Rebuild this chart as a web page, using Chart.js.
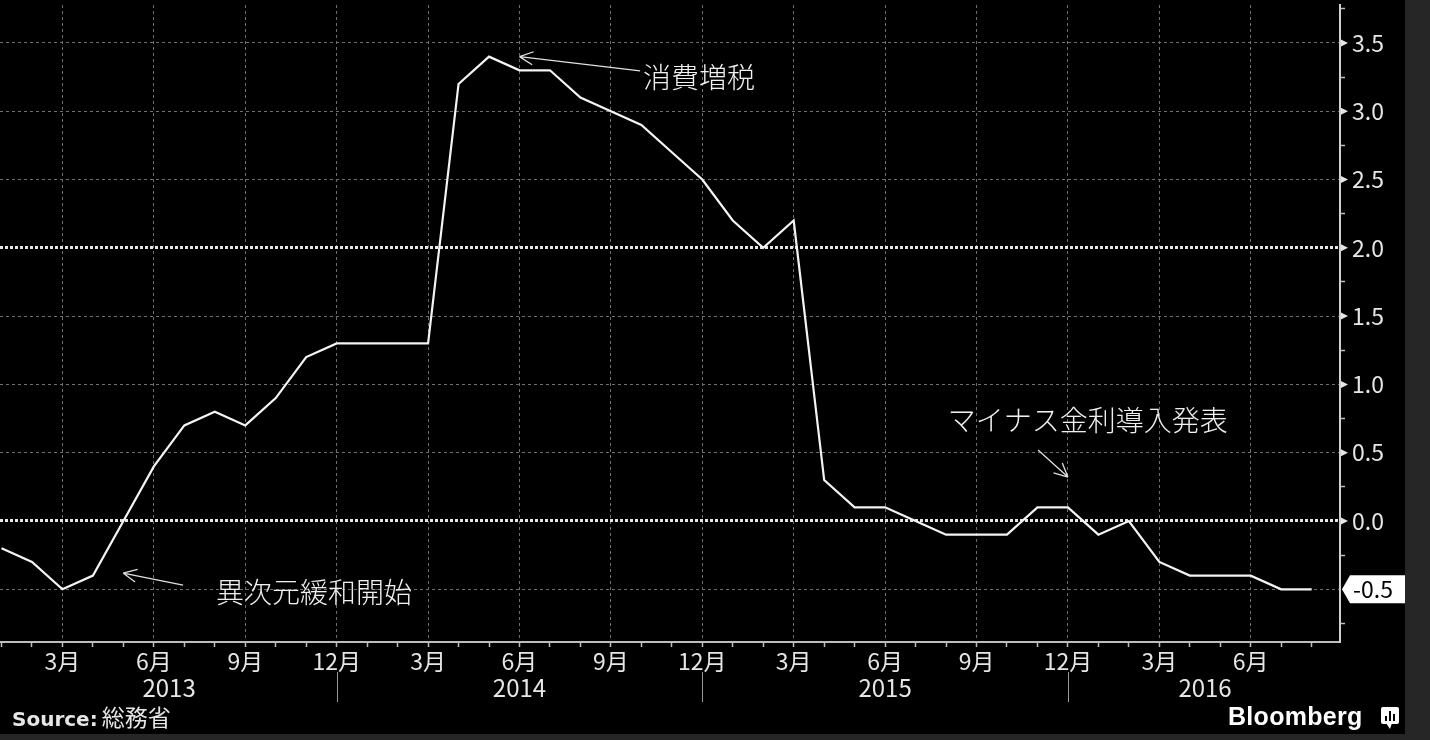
<!DOCTYPE html>
<html lang="ja">
<head>
<meta charset="utf-8">
<title>コアCPI 前年比</title>
<script src="https://cdn.jsdelivr.net/npm/chart.js@4.4.1/dist/chart.umd.min.js"></script>
<style>
  html, body { margin: 0; padding: 0; background: #262626; }
  #wrap { position: relative; width: 1405px; height: 734px; background: #000; overflow: hidden; }
  #cpiChart { position: absolute; left: 0; top: 0; }
  .source { position: absolute; left: 12px; top: 699px; color: #e6e6e6; line-height: 24px; white-space: nowrap; }
  .source b { font: bold 20px "DejaVu Sans", sans-serif; }
  .source span { font: 23px "Noto Sans CJK JP", sans-serif; }
  .brand { position: absolute; left: 1228px; top: 702px; color: #fff; font: bold 25px "Liberation Sans", Arial, sans-serif; line-height: 28px; letter-spacing: 0.3px; }
</style>
</head>
<body>
<div id="wrap">
  <canvas id="cpiChart" width="1405" height="734"></canvas>
  <div class="source"><b>Source:</b> <span>総務省</span></div>
  <div class="brand">Bloomberg</div>
</div>
<script>
// 月次データ (前年同月比 %)
const startYear = 2013;
const cpi2013 = [-0.2, -0.3, -0.5, -0.4, 0.0, 0.4, 0.7, 0.8, 0.7, 0.9, 1.2, 1.3];
const cpi2014 = [1.3, 1.3, 1.3, 3.2, 3.4, 3.3, 3.3, 3.1, 3.0, 2.9, 2.7, 2.5];
const cpi2015 = [2.2, 2.0, 2.2, 0.3, 0.1, 0.1, 0.0, -0.1, -0.1, -0.1, 0.1, 0.1];
const cpi2016 = [-0.1, 0.0, -0.3, -0.4, -0.4, -0.4, -0.5, -0.5];

const monthNames = ['1月', '2月', '3月', '4月', '5月', '6月', '7月', '8月', '9月', '10月', '11月', '12月'];
const labelledMonths = [3, 6, 9, 12];
const yearLabels = ['2013', '2014', '2015', '2016'];
const refLines = [0, 2];
const noteTexts = ['消費増税', '異次元緩和開始', 'マイナス金利導入発表'];

// レイアウト (データ単位)
const X_MIN = -0.05, X_MAX = 43.93;
const Y_MIN = -0.886, Y_MAX = 3.778;
const yearCentres = [5.5, 17, 29, 39.5];
const notePlaces = [
    { tip: [17.0, 3.40], tail: [20.96, 3.295], text: [21.05, 3.25] },
    { tip: [3.99, -0.381], tail: [5.96, -0.469], text: [7.04, -0.52] },
    { tip: [35.0, 0.322], tail: [34.02, 0.52], text: [31.06, 0.74] }
];

const cpiValues = [].concat(cpi2013, cpi2014, cpi2015, cpi2016);
const points = cpiValues.map((v, i) => ({ x: i, y: v }));
const lastValue = cpiValues[cpiValues.length - 1];

const near = (a, b) => Math.abs(a - b) < 1e-6;
const isMajor = v => near(v * 2, Math.round(v * 2));
const isRef = v => refLines.some(r => near(r, v));

const decorations = {
    id: 'decorations',
    afterDraw(chart) {
        const { ctx, chartArea, scales: { x, y } } = chart;
        ctx.save();

        // 目盛りの三角
        ctx.fillStyle = '#e6e6e6';
        y.ticks.forEach(t => {
            if (!isMajor(t.value) || near(t.value, lastValue)) return;
            const py = y.getPixelForValue(t.value);
            ctx.beginPath();
            ctx.moveTo(chartArea.right + 1, py - 3.5);
            ctx.lineTo(chartArea.right + 8, py);
            ctx.lineTo(chartArea.right + 1, py + 3.5);
            ctx.closePath();
            ctx.fill();
        });

        // 最新値ラベル
        const by = y.getPixelForValue(lastValue);
        const bx = chartArea.right + 2;
        ctx.fillStyle = '#fff';
        ctx.beginPath();
        ctx.moveTo(bx, by);
        ctx.lineTo(bx + 8, by - 14);
        ctx.lineTo(chart.width, by - 14);
        ctx.lineTo(chart.width, by + 14);
        ctx.lineTo(bx + 8, by + 14);
        ctx.closePath();
        ctx.fill();
        ctx.fillStyle = '#000';
        ctx.font = '23px "Noto Sans CJK JP", sans-serif';
        ctx.textAlign = 'left';
        ctx.textBaseline = 'middle';
        ctx.fillText(lastValue.toFixed(1), bx + 11, by);

        // 年ラベルと区切り
        ctx.fillStyle = '#e6e6e6';
        ctx.font = '24px "Noto Sans CJK JP", sans-serif';
        ctx.textAlign = 'center';
        yearLabels.forEach((yr, i) => {
            ctx.fillText(yr, x.getPixelForValue(yearCentres[i]), 688);
            if (i > 0) {
                const sx = Math.round(x.getPixelForValue(i * 12 - 1)) + 0.5;
                ctx.strokeStyle = '#9a9a9a';
                ctx.lineWidth = 1;
                ctx.beginPath();
                ctx.moveTo(sx, 672);
                ctx.lineTo(sx, 702);
                ctx.stroke();
            }
        });

        // 注記
        ctx.strokeStyle = '#e0e0e0';
        ctx.lineWidth = 1.3;
        notePlaces.forEach((n, i) => {
            const tx = x.getPixelForValue(n.tip[0]), ty = y.getPixelForValue(n.tip[1]);
            const lx = x.getPixelForValue(n.tail[0]), ly = y.getPixelForValue(n.tail[1]);
            ctx.beginPath();
            ctx.moveTo(lx, ly);
            ctx.lineTo(tx, ty);
            const ang = Math.atan2(ly - ty, lx - tx);
            [0.45, -0.45].forEach(d => {
                ctx.moveTo(tx, ty);
                ctx.lineTo(tx + 15 * Math.cos(ang + d), ty + 15 * Math.sin(ang + d));
            });
            ctx.stroke();
            ctx.fillStyle = '#f0f0f0';
            ctx.font = '300 28px "Noto Sans CJK JP", sans-serif';
            ctx.textAlign = 'left';
            ctx.textBaseline = 'middle';
            ctx.fillText(noteTexts[i], x.getPixelForValue(n.text[0]), y.getPixelForValue(n.text[1]));
        });

        // ロゴのアイコン
        ctx.fillStyle = '#fff';
        ctx.beginPath();
        ctx.roundRect(1381, 707, 18, 17, 2);
        ctx.fill();
        ctx.beginPath();
        ctx.moveTo(1386, 723); ctx.lineTo(1390, 729); ctx.lineTo(1392, 723);
        ctx.fill();
        ctx.fillStyle = '#000';
        ctx.fillRect(1385, 716, 2, 5);
        ctx.fillRect(1389, 711, 2, 10);
        ctx.fillRect(1393, 714, 2, 7);
        ctx.restore();
    }
};

new Chart(document.getElementById('cpiChart').getContext('2d'), {
    type: 'line',
    data: {
        datasets: [{
            label: 'コアCPI',
            data: points,
            borderColor: '#f4f4f4',
            borderWidth: 2.2,
            pointRadius: 0,
            tension: 0,
            fill: false
        }]
    },
    options: {
        responsive: false,
        animation: false,
        layout: { padding: { top: 5, left: 0, right: 0, bottom: 0 } },
        plugins: { legend: { display: false }, tooltip: { enabled: false } },
        scales: {
            x: {
                type: 'linear',
                min: X_MIN,
                max: X_MAX,
                afterBuildTicks: scale => {
                    scale.ticks = cpiValues.map((v, i) => ({ value: i }));
                },
                afterFit: scale => {
                    scale.height = 92;
                    scale.paddingLeft = 0;
                    scale.paddingRight = 0;
                },
                ticks: {
                    autoSkip: false,
                    maxRotation: 0,
                    padding: 0,
                    color: '#e6e6e6',
                    font: { family: '"Noto Sans CJK JP", sans-serif', size: 23 },
                    callback: v => {
                        const m = (Math.round(v) % 12) + 1;
                        return labelledMonths.includes(m) ? monthNames[m - 1] : '';
                    }
                },
                grid: {
                    color: c => labelledMonths.includes((Math.round(c.tick.value) % 12) + 1) ? '#6e6e6e' : 'rgba(0,0,0,0)',
                    lineWidth: 1,
                    tickColor: '#bdbdbd',
                    tickLength: 5,
                    tickWidth: 1.5
                },
                border: { color: '#bdbdbd', width: 2, dash: [3, 3] }
            },
            y: {
                position: 'right',
                min: Y_MIN,
                max: Y_MAX,
                afterFit: scale => {
                    scale.width = 65;
                    scale.paddingTop = 0;
                    scale.paddingBottom = 0;
                },
                ticks: {
                    stepSize: 0.25,
                    includeBounds: false,
                    padding: 7,
                    color: '#e6e6e6',
                    font: { family: '"Noto Sans CJK JP", sans-serif', size: 23 },
                    callback: v => (isMajor(v) && !near(v, lastValue)) ? v.toFixed(1) : ''
                },
                grid: {
                    color: c => !isMajor(c.tick.value) ? 'rgba(0,0,0,0)' : (isRef(c.tick.value) ? '#e6e6e6' : '#6e6e6e'),
                    lineWidth: c => isRef(c.tick.value) ? 3 : 1,
                    tickColor: c => isMajor(c.tick.value) ? 'rgba(0,0,0,0)' : '#bdbdbd',
                    tickLength: 5,
                    tickWidth: 1.5
                },
                border: {
                    color: '#d0d0d0',
                    width: 2,
                    dash: c => isRef(c.tick.value) ? [3, 2] : [3, 3]
                }
            }
        }
    },
    plugins: [decorations]
});
</script>
</body>
</html>
